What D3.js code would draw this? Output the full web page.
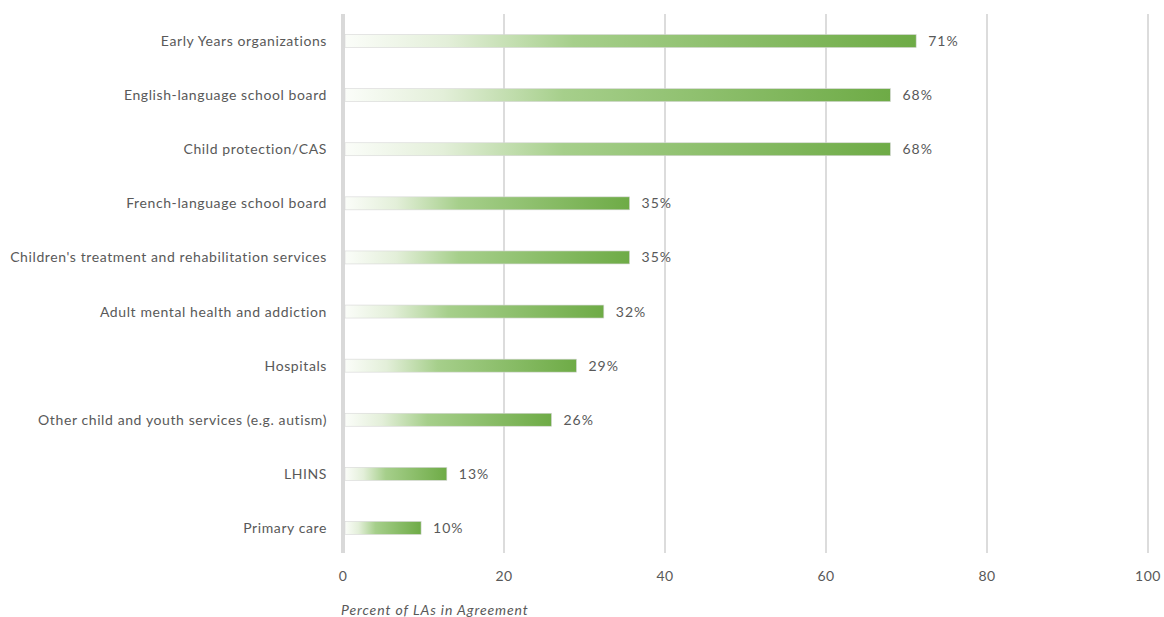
<!DOCTYPE html>
<html>
<head>
<meta charset="utf-8">
<script src="https://cdn.jsdelivr.net/npm/d3@7"></script>
<style>
  body { margin: 0; background: #fff; }
  svg text { font-family: Lato, "Open Sans", sans-serif; fill: #595959; }
</style>
</head>
<body>
<div id="chart"></div>
<script>
// categories top to bottom
const categories = [
    "Early Years organizations",
    "English-language school board",
    "Child protection/CAS",
    "French-language school board",
    "Children's treatment and rehabilitation services",
    "Adult mental health and addiction",
    "Hospitals",
    "Other child and youth services (e.g. autism)",
    "LHINS",
    "Primary care"
];
// bar lengths
const values = [71.2, 68, 68, 35.6, 35.6, 32.4, 29, 25.9, 12.9, 9.7];
const valueLabels = ["71%", "68%", "68%", "35%", "35%", "32%", "29%", "26%", "13%", "10%"];
const xTicks = [0, 20, 40, 60, 80, 100];
const axisTitle = "Percent of LAs in Agreement";

const width = 1164, height = 617;
const margin = {top: 14, right: 16, bottom: 64, left: 343};

const svg = d3.select("#chart").append("svg")
    .attr("width", width)
    .attr("height", height);

const x = d3.scaleLinear().domain([0, 100]).range([margin.left, margin.left + 805]);
const y = d3.scaleBand().domain(categories)
    .range([margin.top, height - margin.bottom + 2])
    .paddingInner(0.76).paddingOuter(0.38);

const defs = svg.append("defs");
const grad = defs.append("linearGradient")
    .attr("id", "barGrad")
    .attr("x1", "0%").attr("x2", "100%").attr("y1", "0%").attr("y2", "0%");
grad.append("stop").attr("offset", "0%").attr("stop-color", "#fbfdf9");
grad.append("stop").attr("offset", "18%").attr("stop-color", "#e3efd9");
grad.append("stop").attr("offset", "40%").attr("stop-color", "#a6cf8b");
grad.append("stop").attr("offset", "100%").attr("stop-color", "#6eab46");

const gridTop = margin.top, gridBottom = 553;

// gridlines
svg.append("g")
    .selectAll("line")
    .data(xTicks.filter(d => d > 0))
    .join("line")
    .attr("x1", d => x(d)).attr("x2", d => x(d))
    .attr("y1", gridTop).attr("y2", gridBottom)
    .attr("stroke", "#d0d0d0")
    .attr("stroke-width", 1.5);

// axis line at zero
svg.append("line")
    .attr("x1", x(0)).attr("x2", x(0))
    .attr("y1", gridTop).attr("y2", gridBottom)
    .attr("stroke", "#d9d9d9")
    .attr("stroke-width", 4);

// bars
svg.append("g")
    .selectAll("rect")
    .data(values)
    .join("rect")
    .attr("x", x(0) + 2)
    .attr("y", (d, i) => y(categories[i]))
    .attr("width", d => x(d) - x(0) - 2)
    .attr("height", y.bandwidth())
    .attr("fill", "url(#barGrad)")
    .attr("stroke", "#d6d6d6")
    .attr("stroke-width", 0.6);

// value labels
svg.append("g")
    .selectAll("text")
    .data(values)
    .join("text")
    .attr("x", d => x(d) + 12)
    .attr("y", (d, i) => y(categories[i]) + y.bandwidth() / 2)
    .attr("dy", "0.36em")
    .style("font-size", "14px")
    .style("letter-spacing", "1px")
    .text((d, i) => valueLabels[i]);

// category labels
svg.append("g")
    .selectAll("text")
    .data(categories)
    .join("text")
    .attr("x", margin.left - 16)
    .attr("y", d => y(d) + y.bandwidth() / 2)
    .attr("dy", "0.36em")
    .attr("text-anchor", "end")
    .style("font-size", "14px")
    .style("letter-spacing", "0.6px")
    .text(d => d);

// x tick labels
svg.append("g")
    .selectAll("text")
    .data(xTicks)
    .join("text")
    .attr("x", d => x(d))
    .attr("y", 576)
    .attr("dy", "0.36em")
    .attr("text-anchor", "middle")
    .style("font-size", "14px")
    .style("letter-spacing", "0.5px")
    .text(d => d);

// axis title
svg.append("text")
    .attr("x", margin.left - 2)
    .attr("y", 615)
    .style("font-size", "14px")
    .style("font-style", "italic")
    .style("letter-spacing", "0.9px")
    .text(axisTitle);
</script>
</body>
</html>
